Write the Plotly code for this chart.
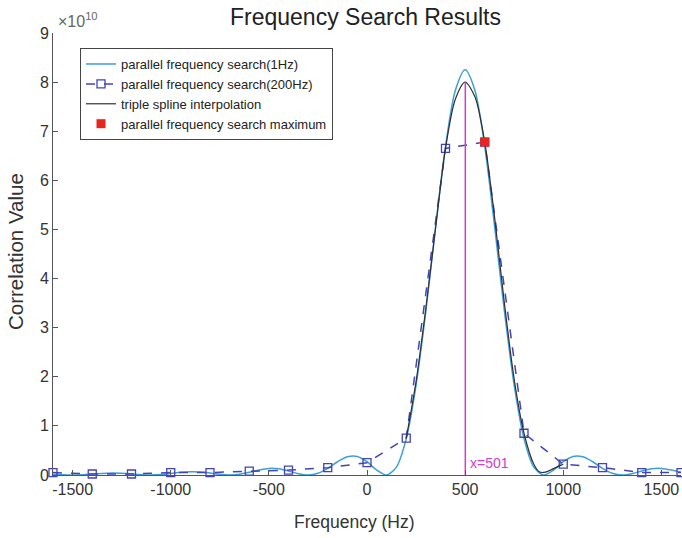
import plotly.graph_objects as go

# ---- data (correlation values in units of 1e10) ----
f_1hz = [-1600, -1550, -1500, -1450, -1400, -1350, -1300, -1250, -1200, -1150,
         -1100, -1050, -1000, -950, -900, -850, -800, -750, -700, -650,
         -600, -550, -500, -450, -400, -350, -300, -250, -200, -150,
         -100, -50, 0, 50, 100, 150, 200, 250, 300, 350,
         400, 450, 500, 550, 600, 650, 700, 750, 800, 850,
         900, 950, 1000, 1050, 1100, 1150, 1200, 1250, 1300, 1350,
         1400, 1450, 1500, 1550, 1600]
v_1hz = [0.015, 0.005, 0.0, 0.005, 0.02, 0.033, 0.041, 0.037, 0.023, 0.007,
         0.0, 0.008, 0.03, 0.054, 0.068, 0.063, 0.04, 0.013, 0.0, 0.015,
         0.055, 0.104, 0.134, 0.126, 0.083, 0.027, 0.0, 0.035, 0.136, 0.27,
         0.37, 0.377, 0.27, 0.097, 0.0, 0.16, 0.74, 1.83, 3.34, 5.07,
         6.69, 7.83, 8.25, 7.83, 6.69, 5.07, 3.34, 1.83, 0.74, 0.16,
         0.0, 0.097, 0.27, 0.377, 0.37, 0.27, 0.136, 0.035, 0.0, 0.027,
         0.083, 0.126, 0.134, 0.104, 0.055]

f_200hz = [-1600, -1400, -1200, -1000, -800, -600, -400, -200, 0, 200,
           400, 600, 800, 1000, 1200, 1400, 1600]
v_200hz = [0.05, 0.02, 0.02, 0.05, 0.05, 0.08, 0.1, 0.15, 0.25, 0.75,
           6.65, 6.78, 0.85, 0.22, 0.15, 0.05, 0.05]

f_spline = [200, 250, 300, 350, 400, 450, 500, 550, 600, 650,
            700, 750, 800, 850, 880, 910, 950, 1000]
v_spline = [0.75, 1.9, 3.4, 5.05, 6.65, 7.65, 8.0, 7.7, 6.78, 5.25,
            3.5, 1.95, 0.85, 0.22, 0.06, 0.06, 0.13, 0.22]

f_max = [600]
v_max = [6.78]

peak_x = [501, 501]
peak_y = [0, 8.0]
peak_label = "x=501"

x_ticks = [-1500, -1000, -500, 0, 500, 1000, 1500]
y_ticks = [0, 1, 2, 3, 4, 5, 6, 7, 8, 9]

FONT = "Liberation Sans, Arial, Helvetica, sans-serif"

fig = go.Figure()
fig.add_trace(go.Scatter(
    x=f_1hz, y=v_1hz, mode="lines", name="parallel frequency search(1Hz)",
    line=dict(color="#3c9fd9", width=1.5, shape="spline", smoothing=0.8)))
fig.add_trace(go.Scatter(
    x=f_200hz, y=v_200hz, mode="lines+markers", name="parallel frequency search(200Hz)",
    line=dict(color="#4343b6", width=1.5, dash="dash"),
    marker=dict(symbol="square-open", size=8, color="#4343b6", line=dict(width=1.3)),
    cliponaxis=False))
fig.add_trace(go.Scatter(
    x=f_spline, y=v_spline, mode="lines", name="triple spline interpolation",
    line=dict(color="#303030", width=1.2, shape="spline", smoothing=0.8)))
fig.add_trace(go.Scatter(
    x=f_max, y=v_max, mode="markers", name="parallel frequency search maximum",
    marker=dict(symbol="square", size=9, color="#e8261e"), cliponaxis=False))
fig.add_trace(go.Scatter(
    x=peak_x, y=peak_y, mode="lines", showlegend=False,
    line=dict(color="#d23ccf", width=1.5)))

fig.update_layout(
    width=682, height=538,
    margin=dict(l=53, r=1, t=33, b=63),
    paper_bgcolor="white", plot_bgcolor="white",
    font=dict(family=FONT, color="#333333"),
    showlegend=True,
    legend=dict(x=0.043, y=0.966, xanchor="left", yanchor="top",
                bgcolor="white", bordercolor="#444444", borderwidth=1,
                font=dict(size=13, color="#222222"),
                tracegroupgap=0, itemwidth=30),
    xaxis=dict(range=[-1600, 1600], tickvals=x_ticks,
               ticktext=[str(t) if t >= 0 else "-" + str(-t) for t in x_ticks],
               showgrid=False, zeroline=False, showline=True, linecolor="#555555",
               linewidth=1, ticks="inside", ticklen=5, tickcolor="#555555",
               tickfont=dict(size=16, color="#333333")),
    yaxis=dict(range=[0, 9], tickvals=y_ticks, showgrid=False, zeroline=False,
               showline=True, linecolor="#555555", linewidth=1, ticks="inside",
               ticklen=5, tickcolor="#555555", tickfont=dict(size=16, color="#333333")),
    annotations=[
        dict(text="Frequency Search Results", xref="paper", yref="paper",
             x=(365 - 53) / 628, y=1.0, yshift=16, xanchor="center", yanchor="middle",
             showarrow=False, font=dict(size=23, color="#222222")),
        dict(text="Frequency (Hz)", xref="paper", yref="paper",
             x=(354 - 53) / 628, y=0, yshift=-47, xanchor="center", yanchor="middle",
             showarrow=False, font=dict(size=17.5, color="#333333")),
        dict(text="Correlation Value", xref="paper", yref="paper",
             x=0, xshift=-38, y=(475 - 252) / 442, xanchor="center", yanchor="middle",
             textangle=-90, showarrow=False, font=dict(size=20.5, color="#333333")),
        dict(text="×10<sup>10</sup>", xref="paper", yref="paper",
             x=0, xshift=3, y=1.0, yshift=13, xanchor="left", yanchor="middle",
             showarrow=False, font=dict(size=16, color="#666666")),
        dict(text=peak_label, xref="x", yref="y", x=peak_x[0], y=0.25,
             xanchor="left", yanchor="middle", xshift=3, showarrow=False,
             font=dict(size=14, color="#d23ccf")),
    ],
)

fig.write_html("out.html")
